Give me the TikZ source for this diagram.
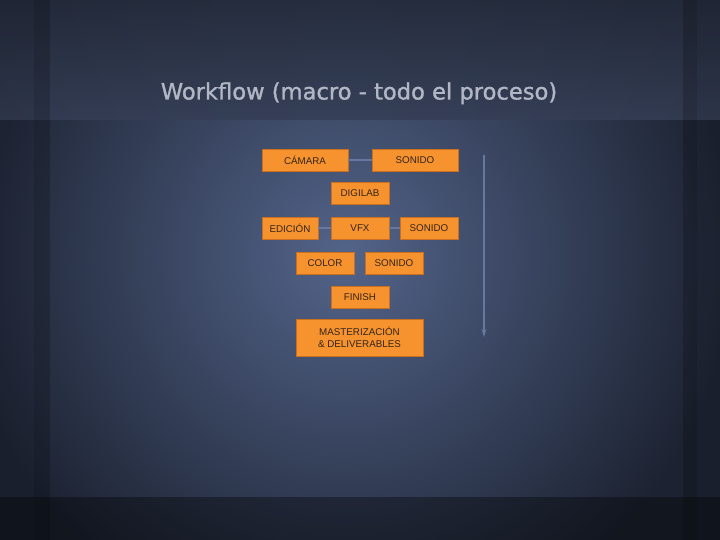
\documentclass[tikz,border=0pt]{standalone}
\usepackage{fontspec}
\setmainfont{Liberation Sans}
\newfontfamily\titlefont[FakeBold=1.2]{DejaVu Sans}
\usetikzlibrary{arrows.meta}
\definecolor{bgdark}{HTML}{1C2231}
\definecolor{bglight}{HTML}{53648A}
\definecolor{bandtop}{HTML}{242B3B}
\definecolor{bandbot}{HTML}{353E55}
\definecolor{boxfill}{HTML}{F7932F}
\definecolor{boxline}{HTML}{C96F1E}
\definecolor{boxtext}{HTML}{33241A}
\definecolor{linkcol}{HTML}{6677A0}
\definecolor{titlecol}{HTML}{B2B7C5}
\tikzset{
  obox/.style={rectangle, fill=boxfill, draw=boxline, line width=0.6pt,
    inner sep=0pt, text=boxtext, align=center,
    font=\fontsize{9.8}{11.5}\selectfont},
  link/.style={draw=linkcol, line width=1.6pt},
  flowarrow/.style={draw=linkcol, line width=1.1pt, -{Stealth[length=8pt,width=5pt]}}
}
\begin{document}
\begin{tikzpicture}[x=1pt,y=-1pt]
\useasboundingbox (0,0) rectangle (720,540);
% background
\begin{scope}
\clip (0,0) rectangle (720,540);
\fill[bgdark] (0,0) rectangle (720,540);
\shade[inner color=bglight, outer color=bgdark] (345,255) circle (390);
\shade[top color=bandtop, bottom color=bandbot, opacity=0.85] (0,0) rectangle (720,120);
\fill[black, opacity=0.35] (0,497) rectangle (720,540);
\fill[black, opacity=0.08] (0,0) rectangle (34,540);
\fill[black, opacity=0.18] (34,0) rectangle (50,540);
\fill[black, opacity=0.08] (697,0) rectangle (720,540);
\fill[black, opacity=0.18] (683,0) rectangle (697,540);
\end{scope}
% title
\node[anchor=base, text=titlecol, font=\titlefont\fontsize{22.6}{26}\selectfont, inner sep=0pt]
  (title) at (359,99.5) {Workflow (macro - todo el proceso)};
% boxes
\node[obox, minimum width=86pt, minimum height=22pt] (camara) at (305,160) {CÁMARA};
\node[obox, minimum width=86pt, minimum height=22pt] (sonido1) at (415,160) {SONIDO};
\node[obox, minimum width=58pt, minimum height=22pt] (digilab) at (360,193) {DIGILAB};
\node[obox, minimum width=56pt, minimum height=22pt] (edicion) at (290,228) {EDICIÓN};
\node[obox, minimum width=58pt, minimum height=22pt] (vfx) at (360,228) {VFX};
\node[obox, minimum width=58pt, minimum height=22pt] (sonido2) at (429,228) {SONIDO};
\node[obox, minimum width=58pt, minimum height=22pt] (color) at (325,263) {COLOR};
\node[obox, minimum width=58pt, minimum height=22pt] (sonido3) at (394,263) {SONIDO};
\node[obox, minimum width=58pt, minimum height=22pt] (finish) at (360,297) {FINISH};
\node[obox, minimum width=127pt, minimum height=37pt] (master) at (359.5,337.5) {MASTERIZACIÓN\\\& DELIVERABLES};
% connectors
\draw[link] (camara.east) -- (sonido1.west);
\draw[link] (edicion.east) -- (vfx.west);
\draw[link] (vfx.east) -- (sonido2.west);
% process arrow
\coordinate (arrtop) at (484,155);
\coordinate (arrbot) at (484,337);
\draw[flowarrow] (arrtop) -- (arrbot);
\end{tikzpicture}
\end{document}
